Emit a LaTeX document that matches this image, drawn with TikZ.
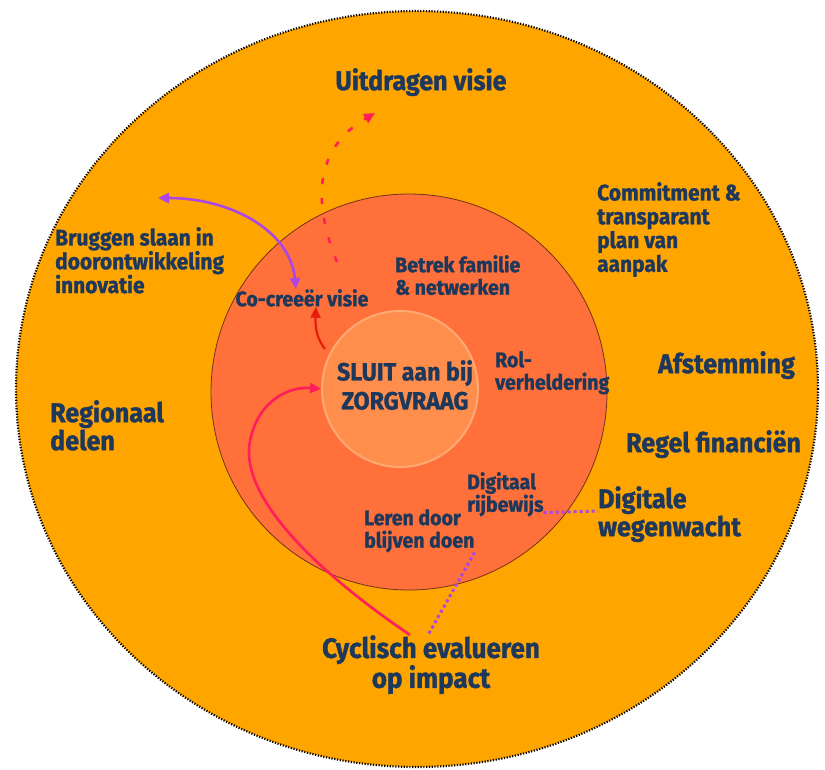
\documentclass[tikz,border=0pt]{standalone}
\usepackage{fontspec}
\setmainfont{Fira Sans}[FakeStretch=0.93,BoldFont={Fira Sans Bold},BoldFeatures={FakeStretch=0.93,FakeBold=1.2}]
\usetikzlibrary{positioning}
\usetikzlibrary{shapes.geometric,arrows.meta}

\definecolor{ringout}{RGB}{255,165,0}
\definecolor{ringmid}{RGB}{255,112,58}
\definecolor{ringin}{RGB}{255,142,76}
\definecolor{ringinedge}{RGB}{255,170,115}
\definecolor{inkblue}{RGB}{30,56,92}
\definecolor{arrowpink}{RGB}{255,30,90}
\definecolor{arrowred}{RGB}{228,30,10}
\definecolor{arrowpurple}{RGB}{172,70,228}

\tikzset{
  big/.style={inner sep=0pt,text=inkblue,font=\bfseries\fontsize{27}{28}\selectfont},
  mid/.style={inner sep=0pt,text=inkblue,font=\bfseries\fontsize{21}{22.5}\selectfont},
  outmid/.style={inner sep=0pt,text=inkblue,font=\bfseries\fontsize{22.5}{23.8}\selectfont},
  link/.style={line width=2.6pt,-{Triangle[length=11pt,width=10pt]}},
  dotlink/.style={arrowpurple,line width=3pt,dash pattern=on 3pt off 3pt}
}

\begin{document}
\begin{tikzpicture}[x=1pt,y=-1pt]
		\useasboundingbox[fill=white] (0,0) rectangle (825,769);
		% rings
		\node[ellipse,fill=ringout,draw=black,line width=2.2pt,dash pattern=on 1.2pt off 1.6pt,minimum width=802pt,minimum height=756pt,inner sep=0pt] (outer) at (417,389) {};
		\node[circle,fill=ringmid,draw=black!55!ringmid,line width=0.8pt,minimum size=396pt,inner sep=0pt] (middle) at (409,392) {};
		\node[circle,fill=ringin,draw=ringinedge,line width=2pt,minimum size=156pt,inner sep=0pt] (core) at (400,389) {};
		
		\node[inner sep=0pt,text=inkblue,font=\bfseries\fontsize{25}{29}\selectfont,align=center,anchor=north] (sluit) at (405,360) {SLUIT aan bij\\ZORGVRAAG};
		
		% outer ring
		\node[big,anchor=north] (uitdragen) at (421,68) {Uitdragen visie};
		\node[outmid,align=left,anchor=north west] (commit) at (597,182) {Commitment \&\\transparant\\plan van\\aanpak};
		\node[outmid,align=left,anchor=north west] (bruggen) at (55,227) {Bruggen slaan in\\doorontwikkeling\\innovatie};
		\node[big,anchor=north west] (afstem) at (658,351) {Afstemming};
		\node[big,align=left,anchor=north west] (regio) at (50,400) {Regionaal\\delen};
		\node[big,anchor=north west] (regel) at (626,430) {Regel financiën};
		\node[big,align=left,anchor=north west] (wegen) at (598,486) {Digitale\\wegenwacht};
		\node[big,font=\bfseries\fontsize{28}{28}\selectfont,align=center,anchor=north] (cyclisch) at (431,635) {Cyclisch evalueren\\op impact};
		
		% middle ring
		\node[mid,anchor=north] (cocreeer) at (302,289) {Co-creeër visie};
		\node[mid,align=left,anchor=north west] (betrek) at (395,255) {Betrek familie\\\& netwerken};
		\node[mid,align=left,anchor=north west] (rol) at (495,351) {Rol-\\verheldering};
		\node[mid,align=left,anchor=north west] (rijbewijs) at (467,472) {Digitaal\\rijbewijs};
		\node[mid,align=left,anchor=north west] (leren) at (364,509) {Leren door\\blijven doen};
		
		% connectors
		\coordinate (bruggentip) at (158,198);
		\coordinate (visietip) at (375,113);
		\draw[link,arrowpink,dash pattern=on 6pt off 14pt] (cocreeer.north)++(35,-27) .. controls (314,205) and (312,150) .. (visietip);
		\draw[arrowpurple,line width=2.6pt,{Triangle[length=11pt,width=10pt]}-{Triangle[length=11pt,width=10pt]}] (bruggentip) .. controls (230,198) and (290,230) .. (cocreeer.north -| 296,0);
		\draw[link,arrowred,line width=2.2pt] (core.west)++(4,-40) .. controls (318,340) and (315,330) .. (cocreeer.south -| 316,0);
		\draw[link,arrowpink] (cyclisch.north -| 410,0) .. controls (300,560) and (240,490) .. (250,441) .. controls (258,400) and (290,386) .. (core.west);
		\draw[dotlink] (leren.south east) -- (cyclisch.north -| 428,0);
		\draw[dotlink] (rijbewijs.south east)++(0,-4) -- (wegen.west |- 0,511);
	\end{tikzpicture}
\end{document}
